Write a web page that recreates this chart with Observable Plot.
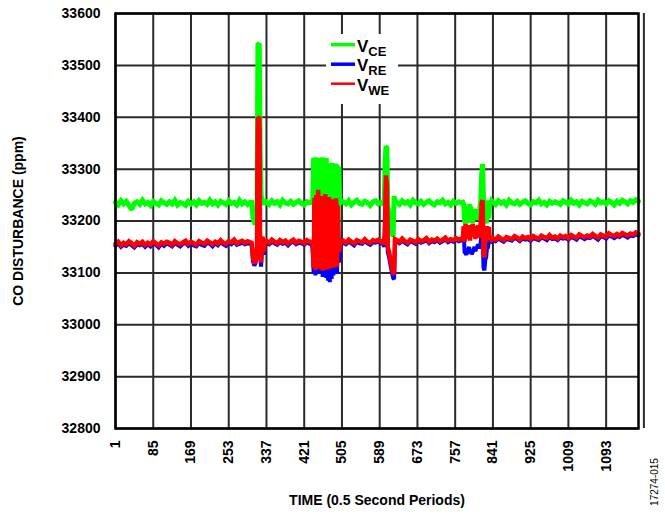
<!DOCTYPE html>
<html>
<head>
<meta charset="utf-8">
<script src="https://cdn.jsdelivr.net/npm/d3@7"></script>
<script src="https://cdn.jsdelivr.net/npm/@observablehq/plot@0.6"></script>
<style>
  html, body { margin: 0; padding: 0; background: #fff; }
  svg { display: block; }
</style>
</head>
<body>
<script>
// ---------------- DATA ----------------
const xTicks = [1, 85, 169, 253, 337, 421, 505, 589, 673, 757, 841, 925, 1009, 1093];
const xGrid = [1, 85, 169, 253, 337, 421, 505, 589, 673, 757, 841, 925, 1009, 1093, 1177];
const yTicks = [32800, 32900, 33000, 33100, 33200, 33300, 33400, 33500, 33600];

const time = [
  1,7,13,19,25,31,37,43,49,55, 61,67,73,79,85,91,97,103,109,115, 121,127,133,139,145,151,157,163,169,175, 181,187,193,199,205,211,217,223,229,235, 241,247,253,259,265,271,277,283,289,295, 301,
  304,307,310,313,316,318,321,323,325,328,331,334,
  337,343,349,355,361,367,373,379,385,391,397,403,409,415,421,427,433,
  436,438,440,442,444,446,448,450,452,454, 456,458,460,462,464,466,468,470,472,474, 476,478,480,482,484,486,488,490,492,494, 496,498,500,502,504,
  508,514,520,526,532,538,544,550,556,562,568,574,580,586,592,
  596,599,601,603,605,607,610,613,616,619,621,623,
  627,633,639,645,651,657,663,669,675,681, 687,693,699,705,711,717,723,729,735,741, 747,753,759,765,771,
  774,776,778,780,782,784,786,788,790,792, 794,796,798,800,802,804,806,808,810,812, 814,816,818,820,822,824,826,828,830,832, 834,836,838,
  841,847,853,859,865,871,877,883,889,895, 901,907,913,919,925,931,937,943,949,955, 961,967,973,979,985,991,997,1003,1009,1015, 1021,1027,1033,1039,1045,1051,1057,1063,1069,1075, 1081,1087,1093,1099,1105,1111,1117,1123,1129,1135, 1141,1147,1153,1159,1165
];

const vCE = [
  33236,33231,33239,33233,33238,33230,33222,33234,33237,33232, 33240,33233,33236,33230,33238,33234,33231,33239,33235,33232, 33237,33233,33240,33231,33236,33234,33230,33238,33233,33237, 33231,33239,33234,33236,33232,33240,33233,33237,33231,33238, 33235,33232,33239,33234,33236,33231,33240,33233,33237,33232, 33236,
  33236,33205,33198,33200,33215,33540,33542,33330,33250,33238,33232,33240,
  33236,33232,33239,33234,33237,33231,33240,33235,33233,33238, 33232,33236,33239,33234,33231,33237,33235,
  33236,33233,33240,33322,33190,33323,33180,33321,33195,33322, 33185,33320,33178,33323,33190,33321,33183,33322,33188,33300, 33180,33310,33192,33312,33185,33310,33190,33311,33182,33309, 33195,33305,33240,33236,33238,
  33237,33233,33239,33231,33236,33240,33234,33232,33238,33235, 33230,33237,33239,33233,33236,
  33236,33230,33310,33345,33340,33230,33210,33195,33180,33170,33248,33238,
  33236,33232,33239,33234,33237,33231,33240,33235,33233,33238, 33232,33236,33239,33234,33231,33237,33235,33240,33233,33236, 33231,33238,33234,33237,33235,
  33236,33232,33200,33198,33205,33196,33215,33232,33228,33225, 33205,33197,33210,33220,33218,33222,33210,33203,33206,33225, 33240,33290,33310,33240,33198,33200,33196,33215,33240,33205, 33238,33234,33239,
  33236,33232,33239,33234,33237,33231,33240,33235,33233,33238, 33232,33236,33239,33234,33231,33237,33235,33240,33233,33236, 33231,33238,33234,33237,33235,33232,33239,33236,33233,33240, 33234,33237,33231,33238,33235,33233,33239,33236,33232,33240, 33235,33237,33233,33239,33236,33231,33238,33234,33240,33237, 33233,33239,33236,33241,33238
];

const vRE = [
  33152,33157,33150,33154,33152,33157,33153,33149,33155,33153, 33156,33150,33155,33151,33157,33154,33149,33156,33152,33157, 33154,33151,33157,33154,33151,33156,33158,33152,33157,33153, 33151,33157,33154,33152,33158,33156,33151,33157,33153,33159, 33155,33152,33158,33155,33160,33154,33156,33158,33155,33157, 33156,
  33155,33122,33114,33120,33140,33385,33380,33130,33112,33162,33135,33160,
  33157,33155,33160,33157,33154,33159,33156,33158,33153,33158, 33160,33155,33158,33157,33154,33159,33156,
  33157,33158,33140,33100,33238,33095,33240,33100,33250,33098, 33235,33102,33240,33092,33230,33096,33244,33090,33232,33085, 33238,33082,33228,33088,33235,33095,33230,33100,33236,33098, 33222,33120,33135,33158,33156,
  33158,33155,33160,33157,33153,33160,33157,33156,33161,33157, 33154,33159,33158,33160,33157,
  33158,33150,33180,33270,33255,33140,33130,33115,33102,33090,33088,33160,
  33160,33157,33162,33158,33155,33161,33159,33156,33162,33158, 33160,33163,33157,33161,33159,33163,33158,33161,33164,33159, 33162,33160,33164,33161,33163,
  33162,33175,33140,33138,33135,33140,33145,33150,33138,33142, 33136,33140,33145,33150,33142,33148,33150,33155,33148,33150, 33160,33190,33200,33110,33105,33125,33130,33150,33150,33160, 33160,33163,33161,
  33164,33161,33166,33163,33160,33165,33164,33162,33167,33165, 33161,33166,33164,33165,33162,33167,33165,33163,33168,33166, 33163,33169,33165,33166,33163,33168,33166,33167,33164,33169, 33167,33164,33170,33168,33165,33168,33167,33171,33168,33164, 33170,33169,33166,33172,33170,33167,33171,33169,33173,33171, 33168,33172,33171,33174,33172
];

const vWE = [
  33156,33160,33153,33158,33155,33161,33157,33152,33159,33156, 33160,33154,33158,33155,33161,33157,33153,33159,33156,33160, 33158,33154,33161,33157,33155,33159,33162,33156,33160,33157, 33154,33161,33158,33156,33162,33159,33155,33160,33157,33163, 33158,33156,33161,33159,33164,33157,33160,33162,33158,33161, 33159,
  33158,33130,33118,33125,33150,33400,33398,33140,33120,33170,33140,33165,
  33161,33158,33164,33160,33157,33163,33159,33162,33156,33161, 33164,33158,33162,33160,33157,33163,33160,
  33160,33162,33150,33110,33245,33105,33250,33112,33260,33108, 33242,33115,33248,33104,33238,33110,33252,33106,33240,33112, 33246,33108,33236,33114,33242,33110,33238,33116,33244,33112, 33230,33140,33150,33165,33160,
  33162,33158,33164,33160,33157,33163,33161,33159,33165,33160, 33158,33163,33161,33164,33160,
  33162,33155,33200,33288,33270,33150,33140,33125,33112,33100,33098,33165,
  33163,33160,33166,33161,33158,33164,33162,33159,33165,33161, 33163,33167,33160,33164,33162,33166,33161,33164,33168,33162, 33165,33163,33167,33164,33166,
  33165,33190,33160,33195,33165,33185,33170,33192,33162,33188, 33170,33195,33175,33190,33165,33185,33172,33192,33168,33180, 33200,33235,33240,33140,33130,33185,33160,33190,33175,33188, 33165,33168,33164,
  33167,33164,33170,33166,33163,33169,33167,33165,33171,33168, 33164,33170,33167,33169,33165,33171,33168,33166,33172,33169, 33167,33173,33168,33170,33166,33172,33169,33171,33167,33173, 33170,33168,33174,33171,33169,33172,33170,33175,33171,33168, 33174,33172,33170,33176,33173,33171,33175,33172,33177,33174, 33172,33176,33174,33178,33175
];

const seriesNames = ["CE", "RE", "WE"];
const seriesColors = ["#00ff00", "#0000ff", "#ff0000"];
const xTitle = "TIME (0.5 Second Periods)";
const yTitle = "CO DISTURBANCE (ppm)";
const figId = "17274-015";

// ---------------- CHART ----------------
const FONT = "Arial, 'Liberation Sans', Helvetica, sans-serif";
const n = Math.min(time.length, vCE.length, vRE.length, vWE.length);
const idx = d3.range(n);
const mk = (vals, color, w) => Plot.line(idx, {x: i => time[i], y: i => vals[i], stroke: color, strokeWidth: w, strokeLinejoin: "miter", strokeMiterlimit: 2});

const svg = Plot.plot({
  width: 665,
  height: 517,
  marginLeft: 115,
  marginRight: 27,
  marginTop: 13,
  marginBottom: 89,
  style: {fontFamily: FONT, background: "#fff", overflow: "visible"},
  x: {domain: [1, 1165]},
  y: {domain: [32800, 33600]},
  marks: [
    Plot.gridX(xGrid, {stroke: "#2a2a2a", strokeOpacity: 1, strokeWidth: 2}),
    Plot.gridY(yTicks, {stroke: "#2a2a2a", strokeOpacity: 1, strokeWidth: 2}),
    mk(vCE, seriesColors[0], 5),
    mk(vRE, seriesColors[1], 4),
    mk(vWE, seriesColors[2], 4.5),
    Plot.frame({stroke: "#000", strokeWidth: 2.5}),
    Plot.axisX(xTicks, {tickSize: 0, tickPadding: 12, tickRotate: -90, fontSize: 14, fontWeight: "bold", fill: "#000", label: null, tickFormat: d => String(d)}),
    Plot.axisY(yTicks, {tickSize: 0, tickPadding: 15, fontSize: 14, fontWeight: "bold", fill: "#000", label: null, tickFormat: d => String(d)})
  ]
});
document.body.appendChild(svg);

const s = d3.select(svg);
// axis titles
s.append("text").attr("x", 377).attr("y", 505).attr("text-anchor", "middle")
  .attr("font-family", FONT).attr("font-size", 14).attr("font-weight", "bold").attr("fill", "#000").text(xTitle);
s.append("text").attr("transform", "translate(23,221) rotate(-90)").attr("text-anchor", "middle")
  .attr("font-family", FONT).attr("font-size", 14).attr("font-weight", "bold").attr("fill", "#000").text(yTitle);
s.append("text").attr("transform", "translate(658,482) rotate(-90)").attr("text-anchor", "middle")
  .attr("font-family", FONT).attr("font-size", 10).attr("fill", "#000").text(figId);

// legend
const lg = s.append("g");
lg.append("rect").attr("x", 326).attr("y", 34).attr("width", 72).attr("height", 70).attr("fill", "#fff");
const lw = [3.5, 3.5, 2.5];
seriesNames.forEach((nm, k) => {
  const ly = 44.7 + k * 19.5;
  lg.append("line").attr("x1", 331).attr("x2", 355).attr("y1", ly).attr("y2", ly)
    .attr("stroke", seriesColors[k]).attr("stroke-width", lw[k]);
  const t = lg.append("text").attr("x", 357).attr("y", ly + 7.2).attr("text-anchor", "start")
    .attr("font-family", FONT).attr("font-weight", "bold").attr("font-size", 17).attr("fill", "#000");
  t.append("tspan").text("V");
  t.append("tspan").attr("font-size", 13).attr("dy", 4).text(nm);
});
</script>
</body>
</html>
